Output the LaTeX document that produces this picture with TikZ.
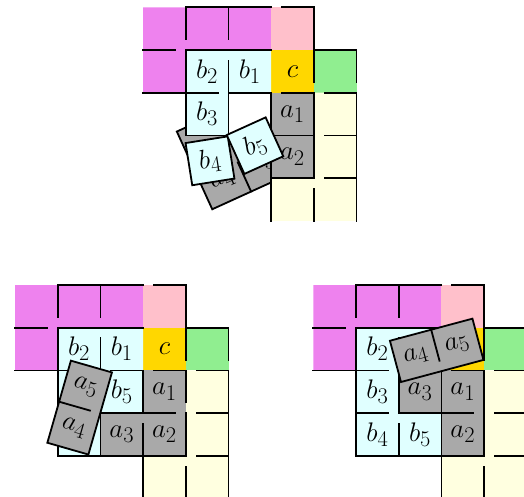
\documentclass[tikz,border=0pt]{standalone}
\definecolor{cmag}{HTML}{EE82EE}
\definecolor{cpink}{HTML}{FFC0CB}
\definecolor{cgold}{HTML}{FFD700}
\definecolor{cgreen}{HTML}{90EE90}
\definecolor{cyel}{HTML}{FFFFE0}
\definecolor{ccyan}{HTML}{E0FFFF}
\definecolor{cgray}{HTML}{A9A9A9}
\tikzset{
  wall/.style={line width=1.8pt, line cap=rect},
  lbl/.style={inner sep=0pt, font=\Huge, transform shape, scale=1.08},
  graypiece/.style={wall, fill=cgray},
  cyanpiece/.style={wall, fill=ccyan},
}
\newcommand{\basefills}{%
  \fill[cmag] (0,0) rectangle (3,1) (0,1) rectangle (1,2);
  \fill[cpink] (3,0) rectangle (4,1);
  \fill[cgold] (3,1) rectangle (4,2);
  \fill[cgreen] (4,1) rectangle (5,2);
  \fill[cyel] (4,2) rectangle (5,5) (3,4) rectangle (4,5);
  \fill[cgray] (3,2) rectangle (4,4);
}
\newcommand{\basewalls}{%
  \draw[wall] (1,0.75)--(1,0)--(3,0) (3.25,0)--(4,0)--(4,1.75)
    (2,0)--(2,0.75)
    (0,1)--(0.75,1) (1,1)--(3,1) (4,1)--(5,1)--(5,1.75)
    (0,2)--(1.75,2) (3.25,2)--(4,2) (4.25,2)--(5,2)--(5,5)
    (4.25,3)--(5,3) (4.25,4)--(5,4)
    (3,5)--(3,4)--(4,4) (4,4.25)--(4,5);
}
\begin{document}
\begin{tikzpicture}[x=1pt,y=-1pt]
\useasboundingbox (0,0) rectangle (524,496);

% ---------------- top panel ----------------
\begin{scope}[shift={(143,7.3)}, x=42.7pt, y=-42.7pt]
  \begin{scope}[shift={(2.117,3.405)}, rotate=24.5, transform shape]
    \filldraw[graypiece] (-1,-1) rectangle (1,1);
    \draw[wall] (0,0.25)--(0,1) (-1,0)--(-0.25,0);
    \node[lbl] (T-a4) at (-0.5,0.5) {$a_4$};
    \node[lbl] (T-a3) at (0.5,0.5) {$a_3$};
  \end{scope}
  \basefills
  \fill[ccyan] (1,1) rectangle (3,2) (1,2) rectangle (2,3);
  \fill[white] (2,2) rectangle (3,3);
  \node[lbl] (T-c) at (3.5,1.5) {$c$};
  \node[lbl] (T-a1) at (3.5,2.5) {$a_1$};
  \node[lbl] (T-a2) at (3.5,3.5) {$a_2$};
  \node[lbl] (T-b2) at (1.5,1.5) {$b_2$};
  \node[lbl] (T-b1) at (2.5,1.5) {$b_1$};
  \node[lbl] (T-b3) at (1.5,2.5) {$b_3$};
  \basewalls
  \draw[wall] (2,1.25)--(2,3) (1,1)--(1,3)--(2,3) (2,2)--(3,2)
    (3,2)--(3,4) (4,2)--(4,4) (3,3)--(4,3);
  \begin{scope}[shift={(1.569,3.595)}, rotate=9, transform shape]
    \filldraw[cyanpiece] (-0.5,-0.5) rectangle (0.5,0.5);
    \node[lbl] (T-b4) at (0,0) {$b_4$};
  \end{scope}
  \begin{scope}[shift={(2.623,3.240)}, rotate=24.4, transform shape]
    \filldraw[cyanpiece] (-0.5,-0.5) rectangle (0.5,0.5);
    \node[lbl] (T-b5) at (0,0) {$b_5$};
  \end{scope}
\end{scope}

% ---------------- bottom-left panel ----------------
\begin{scope}[shift={(15,285)}, x=42.7pt, y=-42.7pt]
  \basefills
  \fill[ccyan] (1,1) rectangle (3,3) (1,3) rectangle (2,4);
  \fill[cgray] (2,3) rectangle (3,4);
  \node[lbl] (L-c) at (3.5,1.5) {$c$};
  \node[lbl] (L-a1) at (3.5,2.5) {$a_1$};
  \node[lbl] (L-a2) at (3.5,3.5) {$a_2$};
  \node[lbl] (L-a3) at (2.5,3.5) {$a_3$};
  \node[lbl] (L-b2) at (1.5,1.5) {$b_2$};
  \node[lbl] (L-b1) at (2.5,1.5) {$b_1$};
  \node[lbl] (L-b5) at (2.5,2.5) {$b_5$};
  \basewalls
  \draw[wall] (1,1)--(1,4)--(3,4) (2,1.25)--(2,2) (2.25,2)--(3,2)
    (3,2)--(3,3) (3,3.25)--(3,4) (2,3)--(2,4) (2,3)--(3.75,3)
    (4,2)--(4,2.75) (4,3)--(4,4);
  \begin{scope}[shift={(1.514,2.871)}, rotate=-16, transform shape]
    \filldraw[graypiece] (-0.5,-1) rectangle (0.5,1);
    \draw[wall] (-0.5,0)--(0.25,0);
    \node[lbl] (L-a5) at (0,-0.5) {$a_5$};
    \node[lbl] (L-a4) at (0,0.5) {$a_4$};
  \end{scope}
\end{scope}

% ---------------- bottom-right panel ----------------
\begin{scope}[shift={(313.3,285)}, x=42.7pt, y=-42.7pt]
  \basefills
  \fill[ccyan] (1,1) rectangle (3,2) (1,2) rectangle (2,4) (2,3) rectangle (3,4);
  \fill[cgray] (2,2) rectangle (3,3);
  \node[lbl] (R-a1) at (3.5,2.5) {$a_1$};
  \node[lbl] (R-a2) at (3.5,3.5) {$a_2$};
  \node[lbl] (R-a3) at (2.5,2.5) {$a_3$};
  \node[lbl] (R-b2) at (1.5,1.5) {$b_2$};
  \node[lbl] (R-b3) at (1.5,2.5) {$b_3$};
  \node[lbl] (R-b4) at (1.5,3.5) {$b_4$};
  \node[lbl] (R-b5) at (2.5,3.5) {$b_5$};
  \basewalls
  \draw[wall] (1,1)--(1,4)--(3,4) (2,1.25)--(2,2) (1,3)--(1.75,3)
    (2,3.25)--(2,4) (2,3)--(3.75,3) (2,2)--(2,3) (2,2)--(3,2)
    (3,2)--(3,4) (4,2)--(4,4);
  \begin{scope}[shift={(2.89,1.53)}, rotate=15, transform shape]
    \filldraw[graypiece] (-1,-0.5) rectangle (1,0.5);
    \draw[wall] (0,-0.5)--(0,0.25);
    \node[lbl] (R-a4) at (-0.5,0) {$a_4$};
    \node[lbl] (R-a5) at (0.5,0) {$a_5$};
  \end{scope}
\end{scope}
\end{tikzpicture}
\end{document}
